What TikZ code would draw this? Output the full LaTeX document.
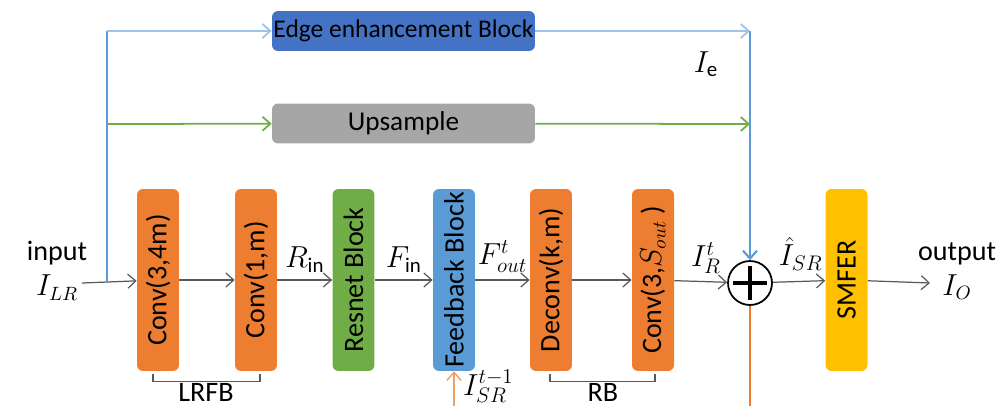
\documentclass[tikz,border=0pt]{standalone}
\usepackage{fontspec}
\setmainfont{Carlito}
\usepackage{tikz}
\usetikzlibrary{arrows.meta,positioning,calc}
\definecolor{convcolor}{RGB}{237,125,49}
\definecolor{rescolor}{RGB}{112,173,71}
\definecolor{fbcolor}{RGB}{91,155,213}
\definecolor{edgecolor}{RGB}{68,114,196}
\definecolor{upcolor}{RGB}{166,166,166}
\definecolor{smfercolor}{RGB}{255,192,0}
\definecolor{lightline}{RGB}{157,195,230}
\definecolor{arrowgray}{RGB}{89,89,89}
\definecolor{sritcolor}{RGB}{244,157,100}

\begin{document}
\begin{tikzpicture}[x=0.02cm, y=-0.02cm,
    >={Straight Barb[length=4.5pt,width=8pt]},
    block/.style={rectangle, rounded corners=0.12cm, minimum width=3.64cm, minimum height=0.84cm, inner sep=0pt, rotate=90, font=\fontsize{16}{18}\selectfont},
    wide/.style={rectangle, rounded corners=0.12cm, minimum width=5.26cm, minimum height=0.8cm, inner sep=0pt, font=\fontsize{14.5}{17}\selectfont},
    lbl/.style={inner sep=1pt, text=black, font=\fontsize{17}{19}\selectfont},
    txt/.style={inner sep=1pt, align=center, text=black, font=\fontsize{16}{20}\selectfont},
    flow/.style={->, arrowgray, line width=0.7pt},
]
    \useasboundingbox (0,0) rectangle (1005,406);

    % Upper branches
    \node[wide, fill=edgecolor] (edge) at (403.5,31) {Edge enhancement Block};
    \node[wide, fill=upcolor, font=\fontsize{15.5}{17}\selectfont] (up) at (403.5,123.5) {Upsample};

    % Main chain
    \node[block, fill=convcolor] (conva) at (158,280) {Conv(3,4m)};
    \node[block, fill=convcolor] (convb) at (256,280) {Conv(1,m)};
    \node[block, fill=rescolor] (res) at (353.5,280) {Resnet Block};
    \node[block, fill=fbcolor] (fb) at (454,280) {Feedback Block};
    \node[block, fill=convcolor] (deconv) at (551,280) {Deconv(k,m)};
    \node[block, fill=convcolor] (convc) at (653,280) {Conv(3,$S_{out}$ )};
    \node[circle, draw, line width=1pt, minimum size=0.88cm, inner sep=0pt] (sum) at (750,283) {};
    \node[block, fill=smfercolor] (smfer) at (846.5,280) {SMFER};

    % Input / output
    \coordinate (src) at (82,283);
    \coordinate (split) at (107,283);
    \coordinate (etop) at (107,31);
    \coordinate (ubranch) at (107,124);
    \coordinate (ejoin) at (750,31);
    \coordinate (ujoin) at (750,124);
    \coordinate (dst) at (930,283);
    \coordinate (fbin) at (454,406);
    \coordinate (bot) at (750,406);
    \node[txt] (inlab) at (57,271) {input\\$I_{LR}$};
    \node[txt] (outlab) at (957,271) {output\\$I_O$};

    % Labels
    \node[lbl] (ielab) at (706,64) {$I_{\mathrm{e}}$};
    \node[lbl, anchor=west] (srlab) at (461,386) {$I_{SR}^{t-1}$};
    \node[txt] (lrfb) at (206,392) {LRFB};
    \node[txt] (rb) at (603,392) {RB};

    % Arrows
    \draw[flow] (src) -- (conva);
    \draw[flow] (conva) -- (convb);
    \draw[flow] (convb) -- node[lbl, above=3pt] {$R_{\mathrm{in}}$} (res);
    \draw[flow] (res) -- node[lbl, above=3pt] {$F_{\mathrm{in}}$} (fb);
    \draw[flow] (fb) -- node[lbl, above=3pt] {$F_{out}^{t}$} (deconv);
    \draw[flow] (deconv) -- (convc);
    \draw[flow] (convc) -- node[lbl, above=3pt, xshift=3pt] {$I_{R}^{t}$} (sum);
    \draw[flow] (sum) -- node[lbl, above=5pt, xshift=1pt] {$\hat{I}_{SR}$} (smfer);
    \draw[flow] (smfer) -- (dst);

    \draw[fbcolor, line width=1.2pt] (split) -- (etop);
    \draw[->, lightline, line width=1pt] (etop) -- (edge);
    \draw[->, rescolor, line width=1pt] (ubranch) -- (up);
    \draw[->, lightline, line width=1pt] (edge) -- (ejoin);
    \draw[->, rescolor, line width=1pt] (up) -- (ujoin);
    \draw[->, fbcolor, line width=1.2pt] (ejoin) -- (sum);
    \draw[->, sritcolor, line width=0.8pt] (fbin) -- (fb);
    \draw[convcolor, line width=1pt] (sum) -- (bot);

    % Plus sign
    \draw[line width=2pt] ($(sum.center)+(-17,0)$) -- ($(sum.center)+(17,0)$);
    \draw[line width=2pt] ($(sum.center)+(0,-17)$) -- ($(sum.center)+(0,17)$);

    % Brackets
    \draw[arrowgray, line width=0.7pt] ($(conva.west)+(-5,3)$) -- ++(0,7) -| ($(convb.west)+(4,3)$);
    \draw[arrowgray, line width=0.7pt] ($(deconv.west)+(-1,3)$) -- ++(0,7) -| ($(convc.west)+(2,3)$);
\end{tikzpicture}
\end{document}
